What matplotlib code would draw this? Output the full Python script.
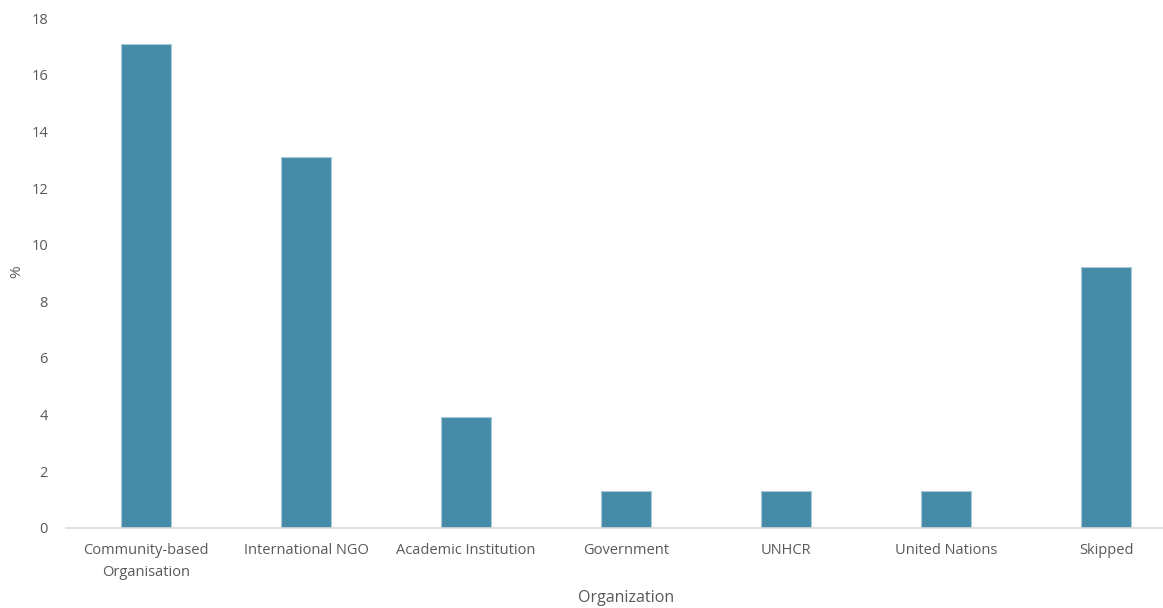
import matplotlib
matplotlib.use("Agg")
import matplotlib.pyplot as plt

# Data
categories = ["Community-based\nOrganisation", "International NGO", "Academic Institution",
              "Government", "UNHCR", "United Nations", "Skipped"]
values = [17.1, 13.1, 3.9, 1.3, 1.3, 1.3, 9.2]
yticks = [0, 2, 4, 6, 8, 10, 12, 14, 16, 18]

plt.rcParams['font.family'] = ['Open Sans', 'DejaVu Sans']

W, H = 1163, 608
fig = plt.figure(figsize=(W / 100, H / 100), dpi=100)
left, right = 66, 1186
top, bottom = 18.3, 527.7
ax = fig.add_axes([left / W, 1 - bottom / H, (right - left) / W, (bottom - top) / H])

x = range(len(categories))
ax.bar(x, values, width=0.31, color='#468ca8', edgecolor='#a8c9d7', linewidth=0.8, zorder=2)

ax.set_xlim(-0.5, len(categories) - 0.5)
ax.set_ylim(0, 18)
ax.set_yticks(yticks)
ax.set_xticks(list(x))
ax.set_xticklabels(categories, fontsize=10.5, color='#595959', linespacing=1.6)
ax.tick_params(axis='y', length=0, pad=13, labelsize=10.5, labelcolor='#595959')
ax.tick_params(axis='x', length=0, pad=11)

for s in ['top', 'right', 'left']:
    ax.spines[s].set_visible(False)
ax.spines['bottom'].set_color('#d9d9d9')
ax.spines['bottom'].set_linewidth(1.2)

# axis titles
fig.text(17 / W, 1 - 272 / H, '%', ha='center', va='center', rotation=90,
         fontsize=11, color='#595959')
fig.text(626 / W, 1 - 598 / H, 'Organization', ha='center', va='center',
         fontsize=11.5, color='#595959')

fig.savefig('out.png', dpi=100)
